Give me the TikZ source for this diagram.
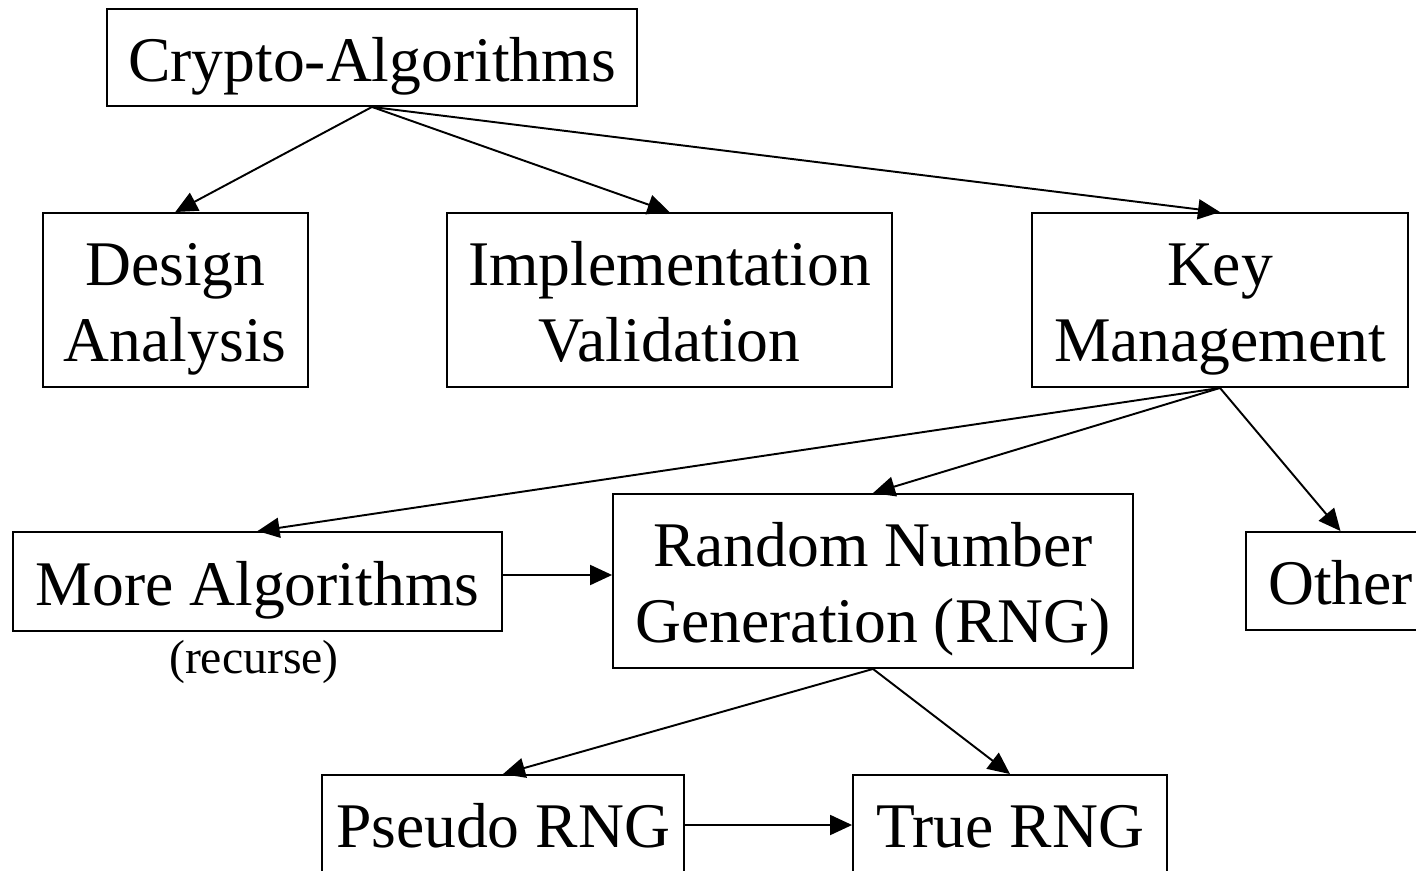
\documentclass[tikz,border=0pt]{standalone}
\usepackage{fontspec}
\setmainfont{Liberation Serif}
\usetikzlibrary{arrows.meta}
\newcommand{\hst}{\rule{0pt}{0.97em}}
\newcommand{\dst}{\rule[-0.23em]{0pt}{0.23em}}
\begin{document}
\begin{tikzpicture}[x=0.02cm,y=-0.02cm,
  box/.style={draw,line width=1.1pt,inner sep=0pt,align=center,
    font=\fontsize{36.2}{43}\selectfont},
  conn/.style={line width=1.1pt,-{Triangle[length=0.44cm,width=0.4cm]}},
  note/.style={inner sep=0pt,font=\fontsize{27.2}{31}\selectfont}]
\clip (0,0) rectangle (1416,871);
\node[box,minimum width=10.6cm,minimum height=1.94cm] (crypto) at (372,57.5) {\hst Crypto-Algorithms\dst};
\node[box,minimum width=5.3cm,minimum height=3.48cm] (design) at (175.3,300) {\hst Design\\Analysis\dst};
\node[box,minimum width=8.9cm,minimum height=3.48cm] (impl) at (669.5,300) {\hst Implementation\\Validation\dst};
\node[box,minimum width=7.52cm,minimum height=3.48cm] (key) at (1220,300) {\hst Key\\Management\dst};
\node[box,minimum width=9.78cm,minimum height=1.98cm] (more) at (257.5,581.5) {\hst More Algorithms\dst};
\node[note] (rec) at (254,662) {(recurse)};
\node[box,minimum width=10.4cm,minimum height=3.48cm] (rng) at (873,581) {\hst Random Number\\Generation (RNG)\dst};
\node[box,minimum width=3.78cm,minimum height=1.96cm] (other) at (1340.5,581) {\hst Other\dst};
\node[box,minimum width=7.24cm,minimum height=1.94cm] (pseudo) at (503,823.5) {\hst Pseudo RNG\dst};
\node[box,minimum width=6.28cm,minimum height=1.94cm] (true) at (1010,823.5) {\hst True RNG\dst};
\draw[conn] (crypto.south) -- (design.north);
\draw[conn] (crypto.south) -- (impl.north);
\draw[conn] (crypto.south) -- (key.north);
\draw[conn] (key.south) -- (more.north);
\draw[conn] (key.south) -- (rng.north);
\draw[conn] (key.south) -- (other.north);
\draw[conn] (more.east |- 0,575) -- (rng.west |- 0,575);
\draw[conn] (rng.south) -- (pseudo.north);
\draw[conn] (rng.south) -- (true.north);
\draw[conn] (pseudo.east |- 0,825) -- (true.west |- 0,825);
\end{tikzpicture}
\end{document}
